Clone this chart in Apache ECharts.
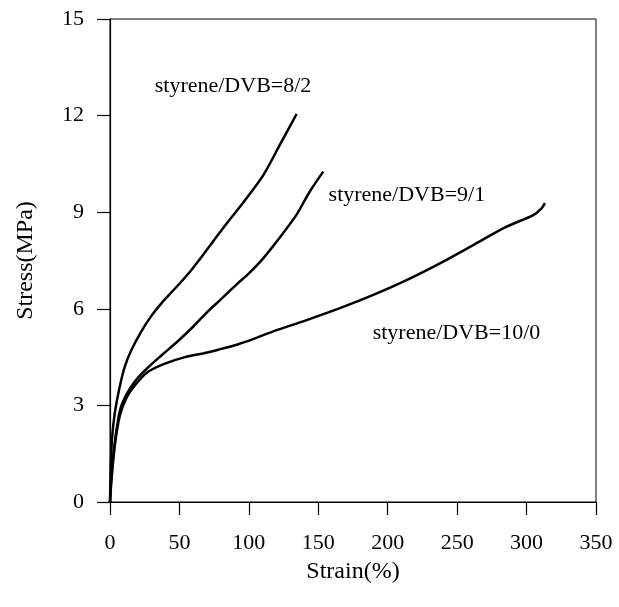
<!DOCTYPE html>
<html>
<head>
<meta charset="utf-8">
<script src="https://cdn.jsdelivr.net/npm/echarts@6/dist/echarts.min.js"></script>
<style>
  html, body { margin: 0; padding: 0; background: #fff; }
  #chart { width: 619px; height: 607px; }
</style>
</head>
<body>
<div id="chart"></div>
<script>
// Stress–strain curves for three styrene/DVB ratios
const strain82 = [0, 0.5, 1.4, 3.4, 7, 10.6, 15.4, 22.6, 29.8, 37, 44, 51.3, 57.6, 64.8, 74.4, 84, 96, 110.4, 122.4, 134.4];
const stress82 = [0, 1.0, 1.93, 2.75, 3.58, 4.2, 4.72, 5.3, 5.78, 6.17, 6.5, 6.84, 7.15, 7.55, 8.1, 8.65, 9.3, 10.15, 11.1, 12.05];

const strain91 = [0, 1.2, 3.6, 7.2, 12, 18, 25, 37, 49, 60, 70, 80, 91, 100, 110, 122, 134, 144, 153.6];
const stress91 = [0, 0.9, 1.9, 2.85, 3.35, 3.75, 4.08, 4.55, 5.0, 5.45, 5.9, 6.3, 6.75, 7.1, 7.55, 8.2, 8.9, 9.65, 10.26];

const strain100 = [0, 1.2, 3.6, 7.2, 12, 18, 27.6, 39.6, 54, 68.4, 78, 92.4, 104.4, 117.6, 141.6, 165.6, 189.6, 213.6, 237.6, 261.6, 285.6, 304.8, 310.8, 313.2];
const stress100 = [0, 0.75, 1.8, 2.7, 3.25, 3.63, 4.05, 4.3, 4.5, 4.63, 4.73, 4.9, 5.08, 5.3, 5.65, 6.02, 6.43, 6.89, 7.41, 7.98, 8.55, 8.91, 9.12, 9.28];

const seriesNames = ['styrene/DVB=8/2', 'styrene/DVB=9/1', 'styrene/DVB=10/0'];
// Where each curve's caption sits, in axis units (strain, stress)
const labelAnchors = [[88.6, 12.9], [213.8, 9.53], [249.5, 5.25]];

const xTicks = [0, 50, 100, 150, 200, 250, 300, 350];
const yTicks = [0, 3, 6, 9, 12, 15];

const FONT = "'Liberation Serif', 'Times New Roman', serif";

function pairs(xs, ys) { return xs.map((x, i) => [x, ys[i]]); }

const curves = [pairs(strain82, stress82), pairs(strain91, stress91), pairs(strain100, stress100)];

const chart = echarts.init(document.getElementById('chart'), null, { renderer: 'canvas' });

chart.setOption({
  animation: false,
  backgroundColor: '#fff',
  grid: {
    left: 110, right: 23, top: 19, bottom: 105,
    show: true, borderColor: '#000', borderWidth: 1, backgroundColor: 'transparent'
  },
  xAxis: {
    type: 'value',
    min: xTicks[0], max: xTicks[xTicks.length - 1], interval: 50,
    name: 'Strain(%)', nameLocation: 'middle', nameGap: 58,
    nameTextStyle: { fontFamily: FONT, fontSize: 24, color: '#000' },
    axisLine: { show: true, onZero: false, lineStyle: { color: '#000', width: 1.2 } },
    axisTick: { show: true, inside: false, length: 13, lineStyle: { color: '#000', width: 1.2 } },
    axisLabel: { fontFamily: FONT, fontSize: 22, color: '#000', margin: 30 },
    splitLine: { show: false }
  },
  yAxis: {
    type: 'value',
    min: yTicks[0], max: yTicks[yTicks.length - 1], interval: 3,
    name: 'Stress(MPa)', nameLocation: 'middle', nameGap: 72,
    nameTextStyle: { fontFamily: FONT, fontSize: 24, color: '#000' },
    axisLine: { show: true, onZero: false, lineStyle: { color: '#000', width: 1.2 } },
    axisTick: { show: true, inside: false, length: 13, lineStyle: { color: '#000', width: 1.2 } },
    axisLabel: { fontFamily: FONT, fontSize: 22, color: '#000', margin: 26 },
    splitLine: { show: false }
  },
  series: curves.map((data, i) => ({
    name: seriesNames[i],
    type: 'line',
    data: data,
    smooth: 0.3,
    showSymbol: false,
    symbol: 'none',
    lineStyle: { color: '#000', width: 2.5 },
    markPoint: {
      symbol: 'circle', symbolSize: 0,
      label: {
        show: true, position: 'inside',
        formatter: seriesNames[i],
        fontFamily: FONT, fontSize: 22, color: '#000'
      },
      data: [{ coord: labelAnchors[i] }]
    }
  }))
});
</script>
</body>
</html>
